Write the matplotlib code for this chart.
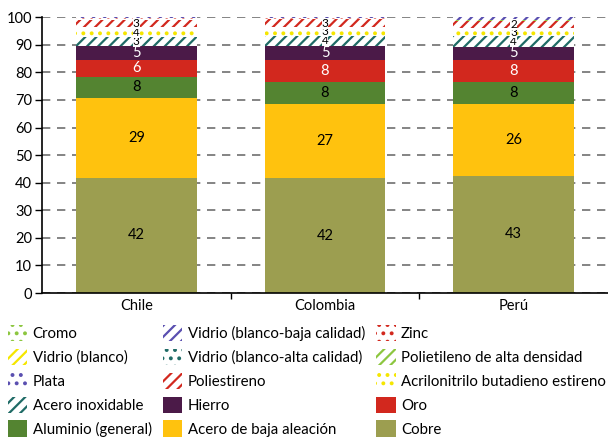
import matplotlib
matplotlib.use("Agg")
import matplotlib.pyplot as plt
from matplotlib.patches import Patch
import numpy as np

plt.rcParams['font.family'] = ['Lato', 'DejaVu Sans']
plt.rcParams['hatch.linewidth'] = 1.6

countries = ["Chile", "Colombia", "Perú"]

# stacking order bottom -> top
materials = ["Cobre", "Acero de baja aleación", "Aluminio (general)", "Oro", "Hierro",
             "Acero inoxidable", "Acrilonitrilo butadieno estireno", "Poliestireno",
             "Plata", "Polietileno de alta densidad", "Vidrio (blanco-alta calidad)",
             "Vidrio (blanco)", "Zinc", "Vidrio (blanco-baja calidad)", "Cromo"]

cobre = [41.8, 41.6, 42.6]
acero_baja = [28.9, 27.0, 26.0]
aluminio = [7.7, 7.9, 7.9]
oro = [6.1, 8.0, 8.0]
hierro = [5.0, 5.0, 4.8]
acero_inox = [3.2, 3.8, 3.8]
abs_ = [3.6, 3.1, 3.0]
poliestireno = [2.8, 2.9, 2.4]
plata = [0.1, 0.1, 0.2]
polietileno = [0.1, 0.1, 0.1]
vidrio_alta = [0.1, 0.0, 0.1]
vidrio_blanco = [0.1, 0.0, 0.1]
zinc = [0.1, 0.1, 0.1]
vidrio_baja = [0.4, 0.4, 0.9]
cromo = [0.0, 0.0, 0.0]

values = [cobre, acero_baja, aluminio, oro, hierro, acero_inox, abs_, poliestireno,
          plata, polietileno, vidrio_alta, vidrio_blanco, zinc, vidrio_baja, cromo]

styles = {
    "Cobre": dict(color="#9c9e50", hatch=None),
    "Acero de baja aleación": dict(color="#ffc20e", hatch=None),
    "Aluminio (general)": dict(color="#548431", hatch=None),
    "Oro": dict(color="#d2281e", hatch=None),
    "Hierro": dict(color="#4b1a48", hatch=None),
    "Acero inoxidable": dict(color="#1f6b66", hatch="///"),
    "Acrilonitrilo butadieno estireno": dict(color="#f5e600", hatch=".."),
    "Poliestireno": dict(color="#d2281e", hatch="///"),
    "Plata": dict(color="#5a4fb0", hatch=".."),
    "Polietileno de alta densidad": dict(color="#8cc63f", hatch="///"),
    "Vidrio (blanco-alta calidad)": dict(color="#1f6b66", hatch=".."),
    "Vidrio (blanco)": dict(color="#f5e600", hatch="///"),
    "Zinc": dict(color="#d2281e", hatch=".."),
    "Vidrio (blanco-baja calidad)": dict(color="#5a4fb0", hatch="///"),
    "Cromo": dict(color="#8cc63f", hatch=".."),
}
white_label = {"Oro", "Hierro"}

fig = plt.figure(figsize=(6.08, 4.40), dpi=100)
ax = fig.add_axes([0.069, 0.334, 0.931, 0.627])

x = np.arange(len(countries))
width = 0.64
bottom = np.zeros(len(countries))
for name, vals in zip(materials, values):
    st = styles[name]
    vals = np.array(vals, dtype=float)
    if st["hatch"] is None:
        ax.bar(x, vals, width, bottom=bottom, color=st["color"], linewidth=0, zorder=2)
    else:
        ax.bar(x, vals, width, bottom=bottom, facecolor="white", edgecolor=st["color"],
               hatch=st["hatch"], linewidth=0, zorder=2)
    for i, v in enumerate(vals):
        if v >= 1.5:
            col = "white" if name in white_label else "black"
            kw = {}
            fs = 10.5
            if st["hatch"] is not None:
                fs = 8.5
                kw["bbox"] = dict(boxstyle="square,pad=0.0", fc="white", ec="none")
            ax.text(x[i], bottom[i] + v / 2, f"{int(round(v))}", ha="center", va="center",
                    fontsize=fs, color=col, zorder=5, linespacing=1.0, **kw)
    bottom += vals

ax.set_xlim(-0.5, 2.5)
ax.set_ylim(0, 100)
ax.set_yticks(np.arange(0, 101, 10))
ax.yaxis.grid(True, linestyle=(0, (5, 4)), color="#707070", linewidth=1.2, zorder=0)
ax.set_axisbelow(True)
ax.set_xticks(x)
ax.set_xticklabels(countries, fontsize=10.5)
ax.set_xticks([0.5, 1.5], minor=True)
ax.tick_params(axis="x", which="major", length=0, pad=4)
ax.tick_params(axis="x", which="minor", length=4, width=1, color="black")
ax.tick_params(axis="y", length=5, width=1, labelsize=10.5, pad=2)
for s in ["top", "right"]:
    ax.spines[s].set_visible(False)
ax.spines["left"].set_linewidth(1.2)
ax.spines["bottom"].set_linewidth(1.2)

legend_order = ["Cromo", "Vidrio (blanco-baja calidad)", "Zinc",
                "Vidrio (blanco)", "Vidrio (blanco-alta calidad)", "Polietileno de alta densidad",
                "Plata", "Poliestireno", "Acrilonitrilo butadieno estireno",
                "Acero inoxidable", "Hierro", "Oro",
                "Aluminio (general)", "Acero de baja aleación", "Cobre"]
ncol = 3
nrow = 5
col_major = [legend_order[r * ncol + c] for c in range(ncol) for r in range(nrow)]
handles = []
for name in col_major:
    st = styles[name]
    if st["hatch"] is None:
        handles.append(Patch(facecolor=st["color"], edgecolor="none", label=name))
    else:
        handles.append(Patch(facecolor="white", edgecolor=st["color"], hatch=st["hatch"],
                             linewidth=0, label=name))
fig.legend(handles=handles, loc="upper left", bbox_to_anchor=(0.003, 0.275), ncol=3,
           frameon=False, fontsize=10.8, handlelength=1.3, handleheight=1.3,
           handletextpad=0.35, columnspacing=0.75, labelspacing=0.5, borderaxespad=0)

fig.savefig("out.png", dpi=100)
